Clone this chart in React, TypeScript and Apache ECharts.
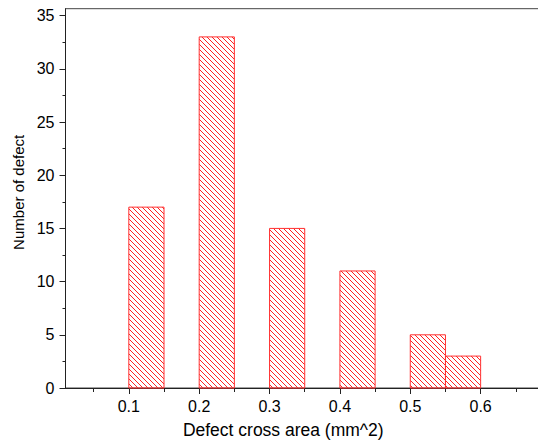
import React, { useEffect, useRef } from "react";
import * as echarts from "echarts";

const binStart = [0.1, 0.2, 0.3, 0.4, 0.5, 0.55];
const binEnd = [0.15, 0.25, 0.35, 0.45, 0.55, 0.6];
const counts = [17, 33, 15, 11, 5, 3];

const xLabelValues = [0.1, 0.2, 0.3, 0.4, 0.5, 0.6];
const xMajorTicks = [0.1, 0.2, 0.3, 0.4, 0.5, 0.6, 0.7];
const xMinorTicks = [0.05, 0.15, 0.25, 0.35, 0.45, 0.55, 0.65];
const yMajorTicks = [0, 5, 10, 15, 20, 25, 30, 35];
const yMinorTicks = [2.5, 7.5, 12.5, 17.5, 22.5, 27.5, 32.5];

const FONT = "'Liberation Sans', Arial, sans-serif";

export default function App() {
  const ref = useRef<HTMLDivElement>(null);
  useEffect(() => {
    if (!ref.current) return;
    const chart = echarts.init(ref.current, undefined, { renderer: "svg" });
    const data = binStart.map((s, i) => [s, binEnd[i], counts[i]]);
    const P = 5;
    const axisColor = "#222";
    const option: any = {
      animation: false,
      backgroundColor: "#fff",
      grid: {
        left: 65.5,
        top: 8.7,
        right: 1,
        bottom: 55.7,
        show: true,
        borderColor: "#444",
        borderWidth: 1,
        backgroundColor: "transparent",
      },
      xAxis: [
        {
          type: "value",
          min: 0.01,
          max: 0.7,
          position: "bottom",
          axisLine: { show: true, onZero: false, lineStyle: { color: axisColor, width: 1 } },
          axisTick: { show: true, customValues: xMajorTicks, length: 6, lineStyle: { color: axisColor } },
          axisLabel: {
            show: true,
            customValues: xLabelValues,
            margin: 10,
            color: "#000",
            fontSize: 16,
            fontFamily: FONT,
            formatter: (v: number) => v.toFixed(1),
          },
          splitLine: { show: false },
          name: "Defect cross area (mm^2)",
          nameLocation: "middle",
          nameGap: 33,
          nameTextStyle: { color: "#000", fontSize: 17.5, fontFamily: FONT, padding: [0, 50, 0, 0] },
        },
        {
          type: "value",
          min: 0.01,
          max: 0.7,
          position: "bottom",
          axisLine: { show: false, onZero: false },
          axisTick: { show: true, customValues: xMinorTicks, length: 4, lineStyle: { color: axisColor } },
          axisLabel: { show: false },
          splitLine: { show: false },
        },
      ],
      yAxis: [
        {
          type: "value",
          min: 0,
          max: 35.65,
          position: "left",
          axisLine: { show: true, onZero: false, lineStyle: { color: axisColor, width: 1 } },
          axisTick: { show: true, customValues: yMajorTicks, length: 6, lineStyle: { color: axisColor } },
          axisLabel: {
            show: true,
            customValues: yMajorTicks,
            margin: 11,
            color: "#000",
            fontSize: 16,
            fontFamily: FONT,
          },
          splitLine: { show: false },
          name: "Number of defect",
          nameLocation: "middle",
          nameGap: 40,
          nameTextStyle: { color: "#000", fontSize: 15, fontFamily: FONT, padding: [0, 0, 0, 12] },
        },
        {
          type: "value",
          min: 0,
          max: 35.65,
          position: "left",
          axisLine: { show: false, onZero: false },
          axisTick: { show: true, customValues: yMinorTicks, length: 3, lineStyle: { color: axisColor } },
          axisLabel: { show: false },
          splitLine: { show: false },
        },
      ],
      series: [
        {
          type: "custom",
          xAxisIndex: 0,
          yAxisIndex: 0,
          data,
          renderItem: (params: any, api: any) => {
            const x0 = api.value(0);
            const x1 = api.value(1);
            const y = api.value(2);
            const p0 = api.coord([x0, y]);
            const p1 = api.coord([x1, 0]);
            const left = p0[0];
            const top = p0[1];
            const right = p1[0];
            const bottom = p1[1];
            const children: any[] = [];
            const cStart = Math.floor((top - right) / P) * P;
            for (let c = cStart; c <= bottom - left; c += P) {
              const xs = Math.max(left, top - c);
              const xe = Math.min(right, bottom - c);
              if (xe > xs) {
                children.push({
                  type: "line",
                  shape: { x1: xs, y1: xs + c, x2: xe, y2: xe + c },
                  style: { stroke: "#ff2020", lineWidth: 1 },
                });
              }
            }
            children.push({
              type: "rect",
              shape: { x: left, y: top, width: right - left, height: bottom - top },
              style: { fill: "none", stroke: "#ff3030", lineWidth: 1 },
            });
            return { type: "group", children };
          },
        },
      ],
    };
    chart.setOption(option);
    return () => chart.dispose();
  }, []);
  return (
    <div
      ref={ref}
      style={{ position: "fixed", left: 0, top: 0, width: 552, height: 444, overflow: "hidden" }}
    />
  );
}
